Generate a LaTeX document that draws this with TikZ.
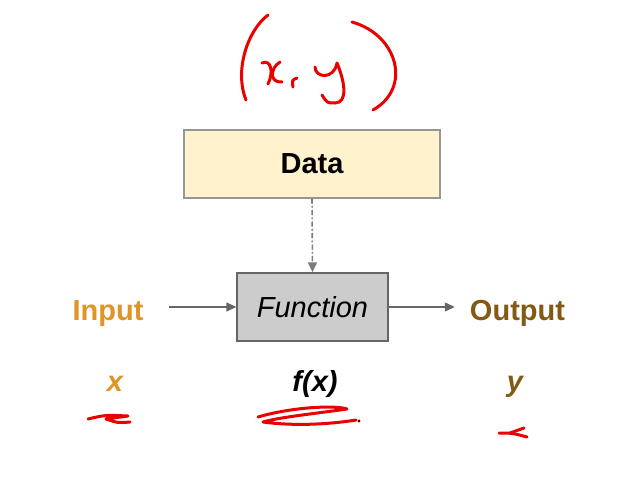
\documentclass[tikz,border=0pt]{standalone}
\usepackage{fontspec}
\setmainfont{Liberation Sans}
\usepackage{xcolor}
\definecolor{amarilloClaro}{RGB}{255, 242, 204}
\definecolor{grisClaro}{RGB}{204, 204, 204}
\definecolor{grisBorde}{RGB}{150, 150, 150}
\definecolor{grisOscuro}{RGB}{102, 102, 102}
\definecolor{naranja}{RGB}{224, 148, 38}
\definecolor{marron}{RGB}{130, 90, 20}
\definecolor{rojo}{RGB}{235, 0, 0}
\definecolor{rojoOscuro}{RGB}{90, 0, 0}
\usetikzlibrary{arrows.meta,positioning}
\newcommand{\grande}{\fontsize{29}{34}\selectfont}
\tikzstyle{caja}  =[draw=grisBorde, line width=1.3pt,
                    minimum width=256pt, minimum height=68pt,
                    inner sep=0pt, font=\grande]
\tikzstyle{texto} =[inner sep=0pt, anchor=base, font=\grande]
\tikzstyle{flecha}=[->, >={Triangle[length=10pt,width=9pt]},
                    line width=1.3pt, draw=grisOscuro, fill=grisOscuro]
\tikzstyle{tinta} =[rojo, line width=3pt,
                    line cap=round, line join=round]

\begin{document}
\begin{tikzpicture}[x=1pt,y=-1pt]
    \useasboundingbox (0,0) rectangle (625,490);

    % cajas
    \node (datos) [caja, fill=amarilloClaro] at (312,164) {\bfseries Data};
    \node (funcion) [caja, fill=grisClaro, draw=grisOscuro,
                     minimum width=151pt] at (312.5,307) {\itshape Function};

    % textos
    \node (entrada) [texto, naranja] at (108,320) {\bfseries Input};
    \node (salida) [texto, marron] at (517.5,320) {\bfseries Output};
    \node (x) [texto, naranja] at (115,391) {\bfseries\itshape x};
    \node (fx) [texto] at (315,391) {\bfseries\itshape f(x)};
    \node (y) [texto, marron] at (515,391) {\bfseries\itshape y};

    % flechas
    \draw [flecha, shorten <=25pt] (entrada.east |- funcion.west) -- (funcion.west);
    \draw [flecha, shorten >=15pt] (funcion.east) -- (salida.west |- funcion.east);
    \draw [flecha, line width=1.6pt, draw=grisOscuro!85,
           dash pattern=on 5pt off 2.5pt on 1.5pt off 2.5pt]
          (datos.south) -- (funcion.north);

    % anotaciones a mano
    \draw [tinta] (268,15) .. controls (248,30) and (234,70) .. (246,100);
    \draw [tinta] (262,63) .. controls (271,59) and (274,72) .. (268,84);
    \draw [tinta] (280,62) .. controls (270,68) and (269,83) .. (282,82);
    \draw [tinta] (297,78) .. controls (292,80) .. (293,87);
    \draw [tinta] (315,67) .. controls (315,78) and (334,80) .. (337,63)
                  .. controls (345,82) and (348,103) .. (335,103)
                  .. controls (327,103) .. (322,95);
    \draw [tinta] (352,22) .. controls (398,35) and (412,88) .. (373,110);

    \draw [tinta] (88,419) .. controls (105,415) .. (128,416)
                  -- (106,419) .. controls (118,423) .. (130,422);
    \draw [tinta] (258,417) .. controls (292,407) and (335,405) .. (347,409)
                  .. controls (320,413) and (280,417) .. (263,422)
                  .. controls (300,427) and (338,423) .. (356,420);
    \fill [rojoOscuro] (359,421) circle (1.6pt);
    \draw [tinta] (499,433) .. controls (512,433) .. (527,437);
    \draw [tinta] (510,433) -- (524,428);
\end{tikzpicture}
\end{document}
